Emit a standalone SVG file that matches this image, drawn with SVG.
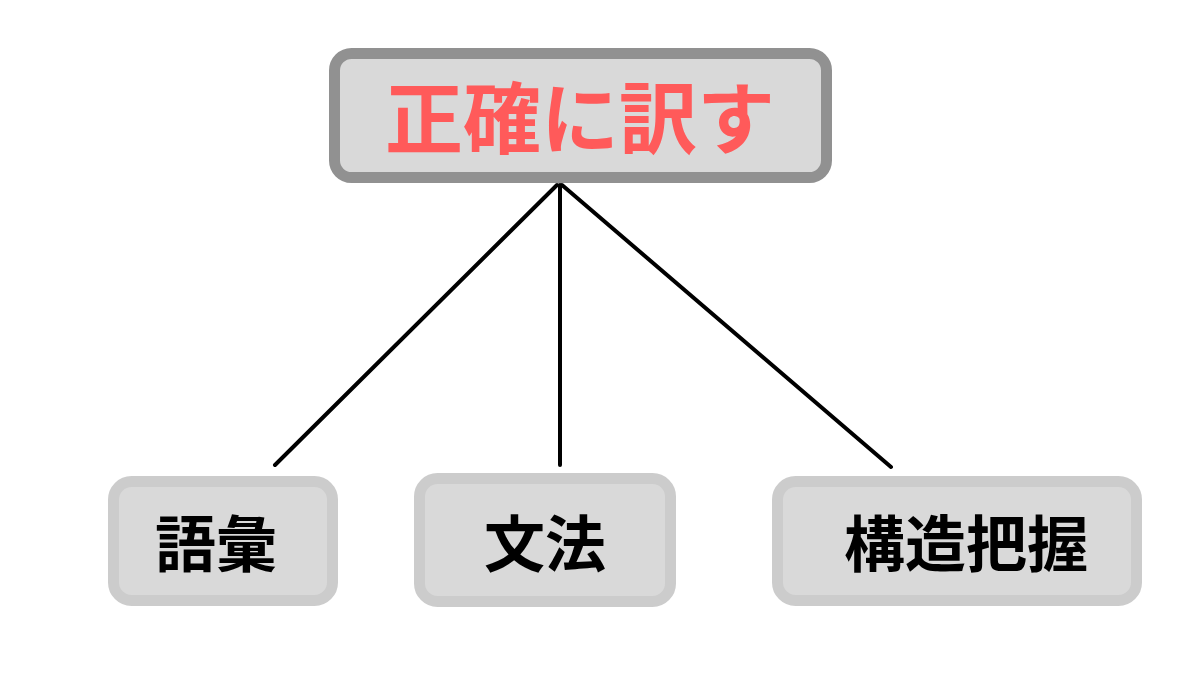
<svg xmlns="http://www.w3.org/2000/svg" width="1200" height="675" viewBox="0 0 1200 675">
<style>
.top{fill:#d9d9d9;stroke:#919191;stroke-width:11}
.box{fill:#d9d9d9;stroke:#cccccc;stroke-width:11}
.conn{stroke:#000;stroke-width:4;stroke-linecap:round;fill:none}
.t{font-family:"Noto Sans CJK JP","Noto Sans CJK SC",sans-serif;font-weight:700;text-anchor:middle;dominant-baseline:central}
.tt{fill:#ff5a5a;font-size:78px}
.bt{fill:#000;font-size:61px}
</style>
<rect width="1200" height="675" fill="#fff"/>
<g id="connectors">
<line class="conn" x1="557" y1="185" x2="275" y2="465"/>
<line class="conn" x1="560" y1="185" x2="560" y2="465"/>
<line class="conn" x1="562" y1="185" x2="891" y2="467"/>
</g>
<g id="node-top">
<rect class="top" x="334.5" y="53.5" width="492" height="124" rx="17"/>
<text class="t tt" x="580" y="114">正確に訳す</text>
</g>
<g id="node-goi">
<rect class="box" x="113.5" y="481.5" width="219" height="119" rx="18"/>
<text class="t bt" x="216" y="540">語彙</text>
</g>
<g id="node-bunpo">
<rect class="box" x="419.5" y="478.5" width="251" height="123" rx="18"/>
<text class="t bt" x="545" y="540">文法</text>
</g>
<g id="node-kozo">
<rect class="box" x="777.5" y="481.5" width="359" height="119" rx="18"/>
<text class="t bt" x="966" y="540">構造把握</text>
</g>
</svg>
